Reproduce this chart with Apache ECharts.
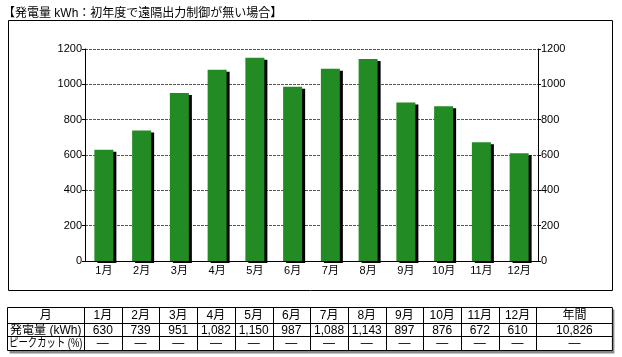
<!DOCTYPE html>
<html>
<head>
<meta charset="utf-8">
<script src="https://cdn.jsdelivr.net/npm/echarts@6/dist/echarts.min.js"></script>
<style>
  html, body { margin: 0; padding: 0; background: #fff; }
  #chart { width: 622px; height: 357px; }
</style>
</head>
<body>
<div id="chart"></div>
<script>
// data
const months = ['1月', '2月', '3月', '4月', '5月', '6月', '7月', '8月', '9月', '10月', '11月', '12月'];
const generation = [630, 739, 951, 1082, 1150, 987, 1088, 1143, 897, 876, 672, 610];
const annualTotal = 10826;
const peakCut = ['—', '—', '—', '—', '—', '—', '—', '—', '—', '—', '—', '—'];
const annualPeakCut = '—';
const rowHeads = ['月', '発電量 (kWh)', 'ピークカット (%)'];
const annualHead = '年間';
const yMin = 0, yMax = 1200, yStep = 200;

const FONT = '"Liberation Sans", "Noto Sans CJK JP", sans-serif';

const chart = echarts.init(document.getElementById('chart'));

// table built from the arrays
function buildTable() {
  const x0 = 7.5, headW = 76.5, colW = 37.7, lastW = 76;
  const rows = [307.5, 323.5, 336.5, 350.5];
  const cols = [x0, x0 + headW];
  for (let i = 1; i <= months.length; i++) cols.push(x0 + headW + colW * i);
  cols.push(cols[cols.length - 1] + lastW);
  const right = cols[cols.length - 1];
  const els = [];
  // gray shadow
  els.push({ type: 'rect', shape: { x: x0 + 2, y: rows[0] + 2, width: right - x0, height: rows[3] - rows[0] + 1 }, style: { fill: '#8a8a8a' }, z: 1 });
  els.push({ type: 'rect', shape: { x: x0, y: rows[0], width: right - x0, height: rows[3] - rows[0] }, style: { fill: '#fff', stroke: '#000', lineWidth: 1 }, z: 2 });
  rows.slice(1, 3).forEach(y => {
    els.push({ type: 'line', shape: { x1: x0, y1: y, x2: right, y2: y }, style: { stroke: '#000', lineWidth: 1 }, z: 3 });
  });
  cols.slice(1, cols.length - 1).forEach(x => {
    els.push({ type: 'line', shape: { x1: Math.round(x) + 0.5, y1: rows[0], x2: Math.round(x) + 0.5, y2: rows[3] }, style: { stroke: '#000', lineWidth: 1 }, z: 3 });
  });
  const cells = [
    [rowHeads[0]].concat(months, [annualHead]),
    [rowHeads[1]].concat(generation.map(v => v.toLocaleString('en-US')), [annualTotal.toLocaleString('en-US')]),
    [rowHeads[2]].concat(peakCut, [annualPeakCut])
  ];
  cells.forEach((row, r) => {
    row.forEach((txt, c) => {
      const cx = (cols[c] + cols[c + 1]) / 2;
      const cy = (rows[r] + rows[r + 1]) / 2 + 0.5;
      const squeeze = (r === 2 && c === 0);
      els.push({
        type: 'text', x: cx, y: cy, z: 4,
        scaleX: squeeze ? 0.78 : 1,
        style: { text: txt, textAlign: 'center', textVerticalAlign: 'middle', fill: '#000', fontSize: 12, fontFamily: FONT }
      });
    });
  });
  return els;
}

const option = {
  animation: false,
  backgroundColor: '#fff',
  title: {
    text: '【発電量 kWh：初年度で遠隔出力制御が無い場合】',
    left: -2, top: 3,
    textStyle: { fontSize: 12, fontWeight: 'normal', color: '#000', fontFamily: FONT }
  },
  graphic: [
    { type: 'rect', shape: { x: 8.5, y: 20.5, width: 604, height: 270 }, style: { fill: 'none', stroke: '#000', lineWidth: 1 }, z: -1 }
  ].concat(buildTable()),
  grid: { left: 85, right: 84, top: 49, bottom: 96 },
  xAxis: [
    {
      type: 'category',
      data: months,
      boundaryGap: true,
      axisLine: { lineStyle: { color: '#000', width: 1 } },
      axisTick: { inside: true, length: 5, lineStyle: { color: '#000' } },
      axisLabel: { color: '#000', fontSize: 11, margin: 4, fontFamily: FONT }
    },
    {
      type: 'category',
      data: months,
      position: 'top',
      axisLine: { lineStyle: { color: '#000', width: 1 } },
      axisTick: { show: false },
      axisLabel: { show: false }
    }
  ],
  yAxis: [
    {
      type: 'value', min: yMin, max: yMax, interval: yStep,
      axisLine: { show: true, lineStyle: { color: '#000' } },
      axisTick: { show: true, length: 3, lineStyle: { color: '#000' } },
      axisLabel: { color: '#000', fontSize: 11, margin: 3, fontFamily: FONT, formatter: v => String(v) },
      splitLine: { show: true, lineStyle: { color: '#555', type: [3, 1], width: 1 } }
    },
    {
      type: 'value', min: yMin, max: yMax, interval: yStep,
      position: 'right',
      axisLine: { show: true, lineStyle: { color: '#000' } },
      axisTick: { show: true, length: 3, lineStyle: { color: '#000' } },
      axisLabel: { color: '#000', fontSize: 11, margin: 3, fontFamily: FONT, formatter: v => String(v) },
      splitLine: { show: false }
    }
  ],
  series: [
    {
      name: '発電量',
      type: 'bar',
      data: generation,
      barWidth: 19,
      itemStyle: {
        color: '#238b23',
        shadowColor: '#000',
        shadowBlur: 0,
        shadowOffsetX: 3,
        shadowOffsetY: 2
      }
    }
  ]
};

chart.setOption(option);
</script>
</body>
</html>
